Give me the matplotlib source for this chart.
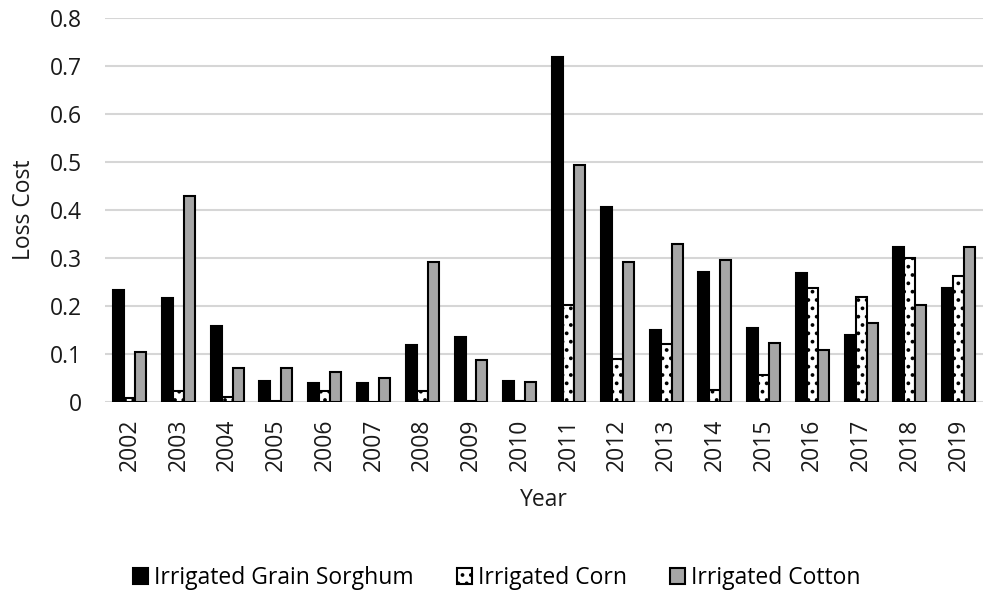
import matplotlib
matplotlib.use("Agg")
import matplotlib.pyplot as plt
import numpy as np

plt.rcParams['font.family'] = ['Open Sans', 'DejaVu Sans']
plt.rcParams['hatch.linewidth'] = 1.5

years = ['2002', '2003', '2004', '2005', '2006', '2007', '2008', '2009', '2010',
         '2011', '2012', '2013', '2014', '2015', '2016', '2017', '2018', '2019']
sorghum = [0.233, 0.217, 0.158, 0.044, 0.040, 0.040, 0.119, 0.135, 0.044,
           0.718, 0.406, 0.150, 0.271, 0.154, 0.269, 0.140, 0.323, 0.237]
corn = [0.008, 0.023, 0.010, 0.002, 0.023, 0.000, 0.024, 0.002, 0.002,
        0.202, 0.090, 0.121, 0.025, 0.056, 0.238, 0.219, 0.300, 0.262]
cotton = [0.104, 0.429, 0.071, 0.071, 0.062, 0.050, 0.292, 0.088, 0.042,
          0.494, 0.292, 0.329, 0.296, 0.123, 0.108, 0.164, 0.202, 0.323]

fig = plt.figure(figsize=(9.84, 5.93), dpi=100)
ax = fig.add_axes([0.107, 0.322, 0.892, 0.648])

x = np.arange(len(years))
w = 0.225
ax.bar(x - w, sorghum, w, color='black', edgecolor='black', linewidth=1.5,
       label='Irrigated Grain Sorghum', zorder=3)
ax.bar(x, corn, w, color='white', edgecolor='black', linewidth=1.5, hatch='..',
       label='Irrigated Corn', zorder=3)
ax.bar(x + w, cotton, w, color='#a6a6a6', edgecolor='black', linewidth=1.5,
       label='Irrigated Cotton', zorder=3)

ax.set_ylim(0, 0.8)
ax.set_yticks(np.arange(0, 0.81, 0.1))
ax.set_yticklabels(['0', '0.1', '0.2', '0.3', '0.4', '0.5', '0.6', '0.7', '0.8'])
ax.set_xlim(-0.5, len(years) - 0.5)
ax.set_xticks(x)
ax.set_xticklabels(years, rotation=90)
ax.tick_params(axis='both', length=0, labelsize=16.5, colors='#1a1a1a')
ax.tick_params(axis='x', pad=12)
ax.tick_params(axis='y', pad=17)
ax.yaxis.grid(True, color='#d6d6d6', linewidth=1.5, zorder=0)
for s in ax.spines.values():
    s.set_visible(False)

ax.set_xlabel('Year', fontsize=16.5, labelpad=12, color='#1a1a1a')
ax.set_ylabel('Loss Cost', fontsize=16.5, labelpad=10, color='#1a1a1a')

fig.legend(loc='center', bbox_to_anchor=(0.505, 0.026), ncol=3, frameon=False,
           fontsize=16.5, handlelength=0.65, handleheight=0.7, handletextpad=0.25,
           columnspacing=1.9)

fig.savefig('out.png', dpi=100)
